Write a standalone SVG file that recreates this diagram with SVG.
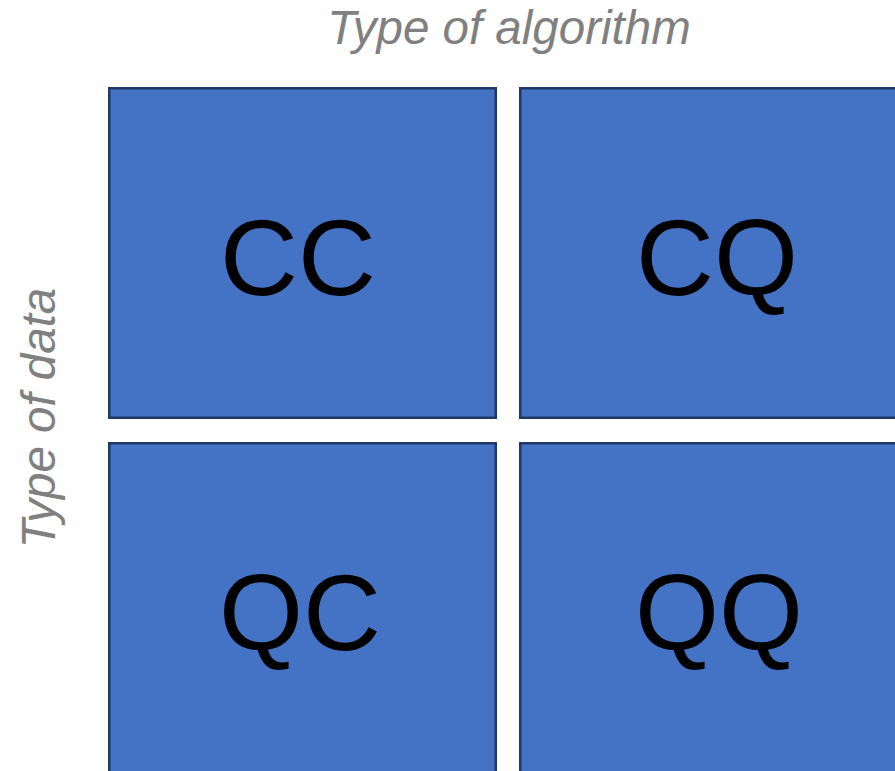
<svg xmlns="http://www.w3.org/2000/svg" width="895" height="771" viewBox="0 0 895 771">
  <style>
    .cell { fill: #4472C4; stroke: #1F3864; stroke-width: 2.5; }
    .cell-label { font-family: "Liberation Sans", Arial, sans-serif; font-size: 108px; fill: #000; text-anchor: middle; }
    .axis { font-family: "Liberation Sans", Arial, sans-serif; font-size: 47.5px; font-style: italic; fill: #808080; text-anchor: middle; }
  </style>
  <rect width="895" height="771" fill="#ffffff"/>

  <!-- axis titles -->
  <text class="axis" x="509" y="44">Type of algorithm</text>
  <text class="axis" transform="translate(55,418) rotate(-90)">Type of data</text>

  <!-- 2x2 grid of categories -->
  <g id="cc">
    <rect class="cell" x="109.25" y="88.25" width="386.5" height="329.5"/>
    <text class="cell-label" x="298" y="295">CC</text>
  </g>
  <g id="cq">
    <rect class="cell" x="520.25" y="88.25" width="386.5" height="329.5"/>
    <text class="cell-label" x="717" y="295">CQ</text>
  </g>
  <g id="qc">
    <rect class="cell" x="109.25" y="443.25" width="386.5" height="329.5"/>
    <text class="cell-label" x="300" y="650">QC</text>
  </g>
  <g id="qq">
    <rect class="cell" x="520.25" y="443.25" width="386.5" height="329.5"/>
    <text class="cell-label" x="719" y="650">QQ</text>
  </g>

  <g id="connectors"/>
</svg>
